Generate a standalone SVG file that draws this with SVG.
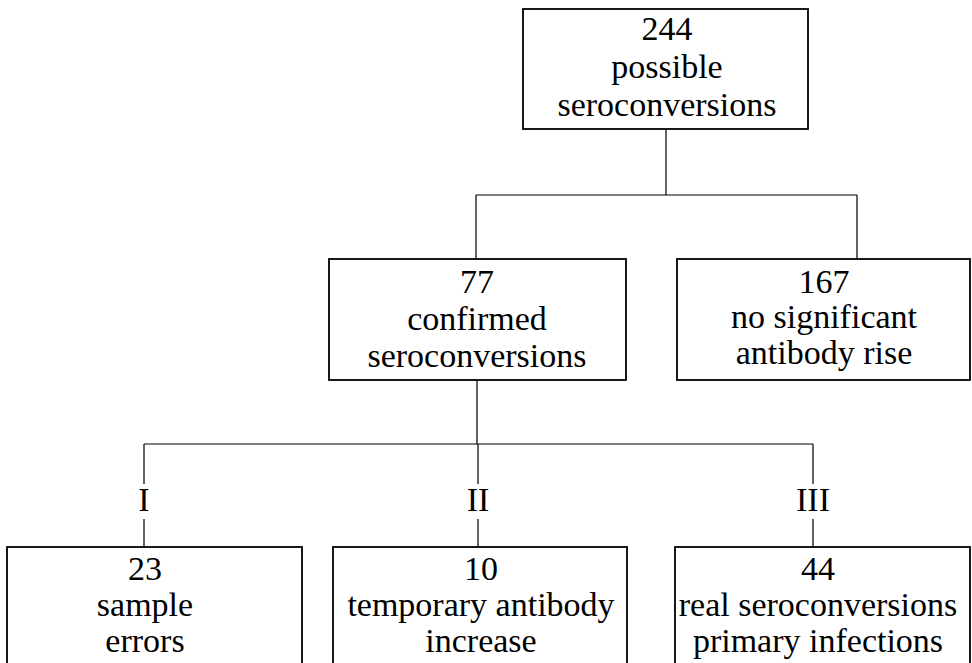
<svg xmlns="http://www.w3.org/2000/svg" width="972" height="663" viewBox="0 0 972 663">
<style>
.box{fill:#fff;stroke:#000;stroke-width:1.8}
.ln{fill:none;stroke:#000;stroke-width:1.2}
text{font-family:"Liberation Serif","Times New Roman",serif;font-size:34px;fill:#000;text-anchor:middle}
</style>
<rect width="972" height="663" fill="#fff"/>
<g id="connectors">
<path class="ln" d="M666 129V195M476 195H857M476 195V259M857 195V259"/>
<path class="ln" d="M477 380V444M144 444H813M144 444V484M144 519V547M478 444V484M478 519V547M813 444V484M813 519V547"/>
<text x="144" y="511">I</text>
<text x="478" y="511">II</text>
<text x="813" y="511">III</text>
</g>
<g id="n244">
<rect class="box" x="523" y="9" width="285" height="120"/>
<text x="667" y="40">244</text>
<text x="667" y="78">possible</text>
<text x="667" y="116">seroconversions</text>
</g>
<g id="n77">
<rect class="box" x="329" y="259" width="297" height="121"/>
<text x="477" y="293">77</text>
<text x="477" y="330">confirmed</text>
<text x="477" y="367">seroconversions</text>
</g>
<g id="n167">
<rect class="box" x="677" y="259" width="293" height="121"/>
<text x="824" y="293">167</text>
<text x="824" y="328">no significant</text>
<text x="824" y="364">antibody rise</text>
</g>
<g id="n23">
<rect class="box" x="7" y="547" width="295" height="130"/>
<text x="145" y="580">23</text>
<text x="145" y="616">sample</text>
<text x="145" y="652">errors</text>
</g>
<g id="n10">
<rect class="box" x="333" y="547" width="294" height="130"/>
<text x="481" y="580">10</text>
<text x="481" y="616">temporary antibody</text>
<text x="481" y="652">increase</text>
</g>
<g id="n44">
<rect class="box" x="675" y="547" width="295" height="130"/>
<text x="818" y="580">44</text>
<text x="818" y="616">real seroconversions</text>
<text x="818" y="652">primary infections</text>
</g>
</svg>
